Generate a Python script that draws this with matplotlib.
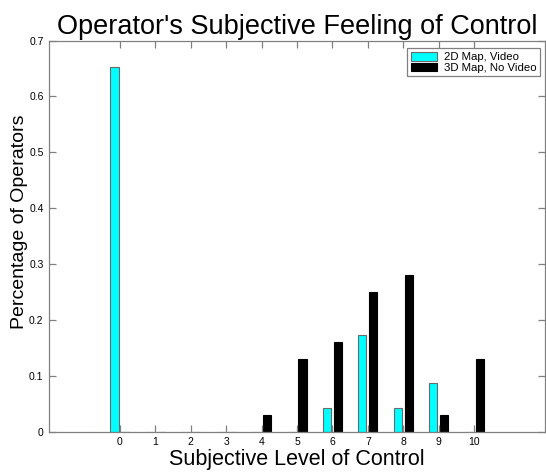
import numpy as np
import matplotlib
matplotlib.use("Agg")
import matplotlib.pyplot as plt

plt.rcParams['font.family'] = ['Liberation Sans', 'DejaVu Sans']

# subjective level of control, fraction of operators per group
levels = [0, 1, 2, 3, 4, 5, 6, 7, 8, 9, 10]
map2d_video = [0.652, 0, 0, 0, 0, 0, 0.0435, 0.174, 0.0435, 0.087, 0]
map3d_novideo = [0, 0, 0, 0, 0.03, 0.13, 0.16, 0.25, 0.28, 0.03, 0.13]
yticks = [0, 0.1, 0.2, 0.3, 0.4, 0.5, 0.6, 0.7]
ytick_labels = ['0', '0.1', '0.2', '0.3', '0.4', '0.5', '0.6', '0.7']

fig = plt.figure(figsize=(5.46, 4.72), dpi=100)
ax = fig.add_axes([0.09, 0.085, 0.908, 0.829])

x = np.array(levels)
w = 0.23
ax.bar(x - 0.155, map2d_video, w, color='#00ffff', edgecolor='#6a6a6a',
       linewidth=0.8, label='2D Map, Video')
ax.bar(x + 0.155, map3d_novideo, w, color='black', edgecolor='black',
       linewidth=0.8, label='3D Map, No Video')

ax.set_xlim(-2, 12)
ax.set_ylim(0, 0.7)
ax.set_xticks(levels)
ax.set_xticklabels([str(v) for v in levels])
ax.set_yticks(yticks)
ax.set_yticklabels(ytick_labels)

gray = '#808080'
for s in ax.spines.values():
    s.set_color(gray)
    s.set_linewidth(0.9)
ax.tick_params(direction='in', length=5, width=0.9, color=gray,
               labelsize=7.5, labelcolor='black', top=True, right=True, pad=4)

ax.set_title("Operator's Subjective Feeling of Control", fontsize=19.5, pad=5)
ax.set_xlabel('Subjective Level of Control', fontsize=15.5, labelpad=1)
ax.set_ylabel('Percentage of Operators', fontsize=14, labelpad=1, y=0.537)

leg = ax.legend(loc='upper right', bbox_to_anchor=(0.99, 0.98), fontsize=8.2,
                fancybox=False, framealpha=1, edgecolor=gray, borderpad=0.3,
                handlelength=2.3, handleheight=0.8, handletextpad=0.6,
                labelspacing=0.05, borderaxespad=0)
leg.get_frame().set_linewidth(0.9)

fig.savefig('out.png', dpi=100)
